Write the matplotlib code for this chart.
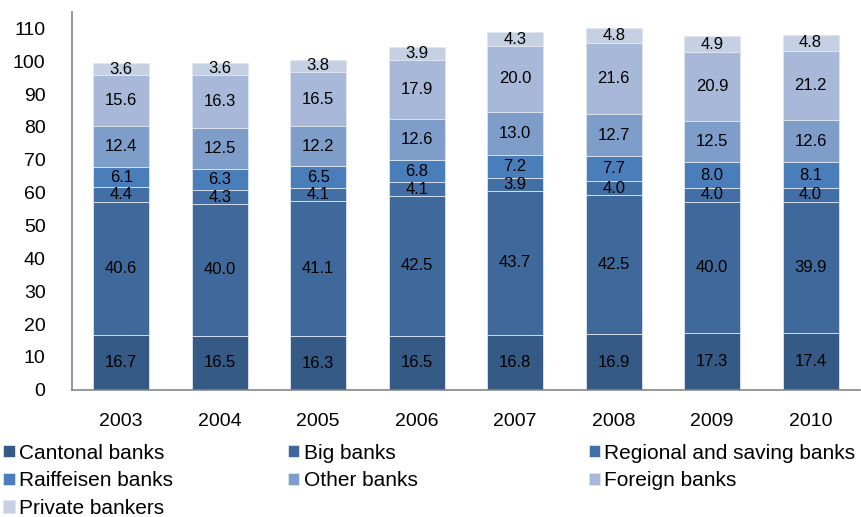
import matplotlib.pyplot as plt
import numpy as np

# Data
years = ['2003', '2004', '2005', '2006', '2007', '2008', '2009', '2010']
categories = ['Cantonal banks', 'Big banks', 'Regional and saving banks',
              'Raiffeisen banks', 'Other banks', 'Foreign banks', 'Private bankers']
cantonal = [16.7, 16.5, 16.3, 16.5, 16.8, 16.9, 17.3, 17.4]
big = [40.6, 40.0, 41.1, 42.5, 43.7, 42.5, 40.0, 39.9]
regional = [4.4, 4.3, 4.1, 4.1, 3.9, 4.0, 4.0, 4.0]
raiffeisen = [6.1, 6.3, 6.5, 6.8, 7.2, 7.7, 8.0, 8.1]
other = [12.4, 12.5, 12.2, 12.6, 13.0, 12.7, 12.5, 12.6]
foreign = [15.6, 16.3, 16.5, 17.9, 20.0, 21.6, 20.9, 21.2]
private = [3.6, 3.6, 3.8, 3.9, 4.3, 4.8, 4.9, 4.8]

series = [cantonal, big, regional, raiffeisen, other, foreign, private]
colors = ['#355a86', '#3f689b', '#416fa6', '#4a7ebb', '#7f9dc9', '#a8b8d8', '#c6d0e3']

plt.rcParams['font.family'] = ['Liberation Sans', 'DejaVu Sans']

fig = plt.figure(figsize=(8.62, 5.17), dpi=100)
ax = fig.add_axes([0.0835, 0.246, 0.914, 0.731])

x = np.arange(len(years))
bottom = np.zeros(len(years))
handles = []
for vals, col, name in zip(series, colors, categories):
    v = np.array(vals)
    h = ax.bar(x, v, 0.57, bottom=bottom, color=col, edgecolor='#dfe6f0',
               linewidth=0.6, label=name)
    handles.append(h)
    for xi, b, hv in zip(x, bottom, v):
        ax.text(xi, b + hv / 2, f'{hv:.1f}', ha='center', va='center',
                fontsize=12, color='black')
    bottom += v

ax.set_xlim(-0.5, len(years) - 0.5)
ax.set_ylim(0, 115)
ax.set_yticks(range(0, 111, 10))
ax.set_xticks(x)
ax.set_xticklabels(years)
ax.tick_params(axis='both', length=0, labelsize=14, colors='black')
ax.tick_params(axis='x', pad=17)
ax.tick_params(axis='y', pad=19)
for s in ['top', 'right']:
    ax.spines[s].set_visible(False)
for s in ['left', 'bottom']:
    ax.spines[s].set_color('#868686')
    ax.spines[s].set_linewidth(1.2)

# legend laid out row by row in three fixed columns
col_x = [0.004, 0.334, 0.683]
for c in range(3):
    idx = list(range(c, len(categories), 3))
    fig.legend([handles[i] for i in idx], [categories[i] for i in idx],
               loc='upper left', bbox_to_anchor=(col_x[c], 0.142),
               frameon=False, fontsize=15, handlelength=0.55, handleheight=0.55,
               handletextpad=0.2, labelspacing=0.42, borderaxespad=0.0,
               borderpad=0.0)

fig.savefig('out.png', dpi=100)
